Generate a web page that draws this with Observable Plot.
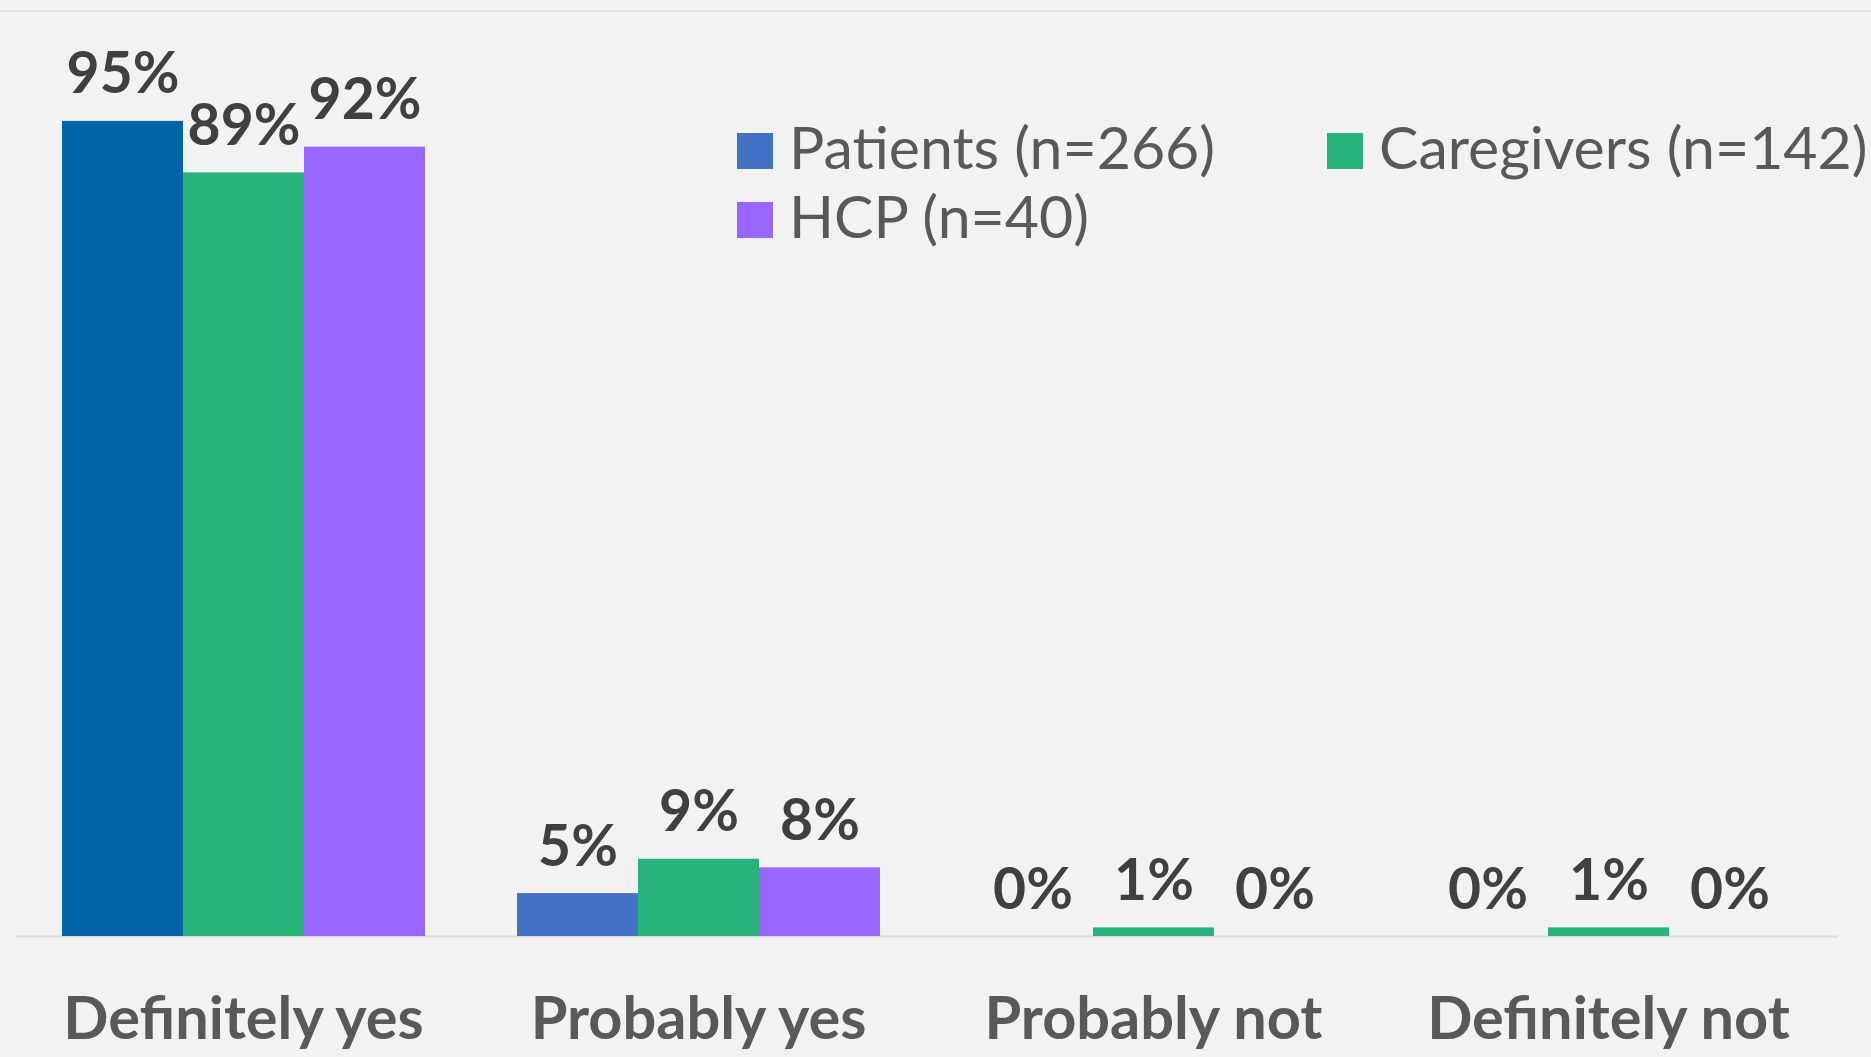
<!DOCTYPE html>
<html>
<head>
<meta charset="utf-8">
<script src="https://cdn.jsdelivr.net/npm/d3@7"></script>
<script src="https://cdn.jsdelivr.net/npm/@observablehq/plot@0.6"></script>
<style>
  html, body { margin: 0; padding: 0; background: #f2f2f2; }
  #wrap { position: relative; width: 1871px; height: 1057px; overflow: hidden; background: #f2f2f2; }
  #topline { position: absolute; left: 0; top: 10px; width: 1871px; height: 2px; background: #dde6f1; }
  #legend { position: absolute; left: 737px; top: 112px; display: grid; grid-template-columns: 590px auto;
            font-family: Lato, "Open Sans", sans-serif; font-size: 59px; line-height: 69px; color: #595959; }
  .item { display: flex; align-items: baseline; white-space: nowrap; }
  .sw { display: inline-block; width: 36px; height: 36px; margin-right: 16px; }
  #chart svg { position: absolute; left: 0; top: 0; }
</style>
</head>
<body>
<div id="wrap">
  <div id="topline"></div>
  <div id="chart"></div>
  <div id="legend"></div>
</div>
<script>
const categories = ["Definitely yes", "Probably yes", "Probably not", "Definitely not"];
const series = ["Patients (n=266)", "Caregivers (n=142)", "HCP (n=40)"];
const patients = [95, 5, 0, 0];
const caregivers = [89, 9, 1, 1];
const hcp = [92, 8, 0, 0];
const seriesColors = ["#4472C4", "#29B27C", "#9966FF"];
const patientsBarColors = ["#0064A6", "#4472C4", "#4472C4", "#4472C4"];

const values = [patients, caregivers, hcp];
const rows = [];
categories.forEach((cat, i) => {
  series.forEach((s, j) => {
    const fill = j === 0 ? patientsBarColors[i] : seriesColors[j];
    rows.push({cat, series: s, value: values[j][i], fill});
  });
});

const chart = Plot.plot({
  width: 1871,
  height: 1057,
  marginLeft: 14,
  marginRight: 34,
  marginTop: 78,
  marginBottom: 121,
  style: {background: "transparent", fontFamily: "Lato, 'Open Sans', sans-serif", overflow: "visible"},
  fx: {domain: categories, paddingInner: 0.2, paddingOuter: 0.1, label: null},
  x: {domain: series, padding: 0, axis: null},
  y: {domain: [0, 100], axis: null},
  color: {type: "identity"},
  marks: [
    Plot.frame({anchor: "bottom", facet: "super", stroke: "#d9d9d9", strokeWidth: 2,
      insetLeft: -45, insetRight: -46}),
    Plot.barY(rows, {fx: "cat", x: "series", y: "value", fill: "fill"}),
    Plot.text(rows, {fx: "cat", x: "series", y: "value", text: d => d.value + "%",
      lineAnchor: "bottom", dy: -28, fontSize: 57, fontWeight: "bold", fill: "#404040"}),
    Plot.axisFx({anchor: "bottom", tickSize: 0, tickPadding: 60, fontSize: 59.5, fontWeight: "bold",
      fill: "#595959", label: null})
  ]
});
document.getElementById("chart").appendChild(chart);

const legend = d3.select("#legend");
series.forEach((s, j) => {
  const item = legend.append("div").attr("class", "item");
  item.append("span").attr("class", "sw").style("background", seriesColors[j]);
  item.append("span").text(s);
});
</script>
</body>
</html>
